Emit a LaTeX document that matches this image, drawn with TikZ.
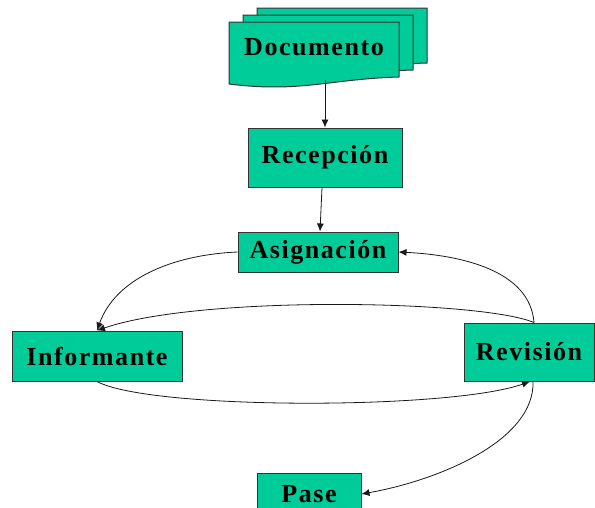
\documentclass[tikz,border=0pt]{standalone}
\usepackage{fontspec}
\setmainfont{Liberation Serif}[LetterSpace=6]
\usetikzlibrary{arrows.meta,calc}
\definecolor{boxgreen}{RGB}{0,204,153}
\begin{document}
\begin{tikzpicture}[x=1pt,y=-1pt,
  every node/.style={font=\fontsize{26}{28}\selectfont\bfseries},
  box/.style={draw=black!80,line width=1pt,fill=boxgreen,inner sep=0pt},
  sheet/.style={draw=black!80,line width=1pt,fill=boxgreen},
  conn/.style={line width=0.8pt,black!90,-{Latex[length=8pt,width=7pt]}}]
\useasboundingbox (0,0) rectangle (595,507);
% document sheets (back to front)
\path[sheet] (257,8) -- (427,8) -- (427,63) .. controls (358,65) and (328,79) .. (257,70) -- cycle;
\path[sheet] (243,15) -- (413,15) -- (413,70) .. controls (344,72) and (314,86) .. (243,77) -- cycle;
\path[sheet] (229,22) -- (399,22) -- (399,77) .. controls (330,79) and (300,93) .. (229,84) -- cycle;
\node (doc) at (314,47) {Documento};
\coordinate (docb) at (325,80);
% boxes
\node[box,minimum width=154pt,minimum height=59pt] (rec) at (325,157.5) {Recepción};
\node[box,minimum width=160pt,minimum height=40pt] (asig) at (318,252) {Asignación};
\node[box,minimum width=170pt,minimum height=50pt] (inf) at (97,356) {Informante};
\node[box,minimum width=130pt,minimum height=58pt] (rev) at (529,352) {Revisión};
\node[box,minimum width=104pt,minimum height=42pt] (pase) at (309,494) {Pase};
% connectors
\draw[conn] (docb) -- (rec.north -| docb);
\draw[conn] ($(rec.south)+(-3,0)$) -- ($(asig.north)+(2,0)$);
\draw[conn] (asig.west) .. controls (170,255) and (115,280) .. (inf.north);
\draw[conn] ($(rev.north)+(5,0)$) .. controls (530,270) and (460,255) .. (asig.east);
\draw[conn] ($(rev.north)+(5,0)$) .. controls (480,300) and (200,295) .. (inf.north);
\draw[conn] (inf.south) .. controls (150,410) and (450,410) .. ($(rev.south)+(1,0)$);
\draw[conn] ($(rev.south)+(4,0)$) .. controls (535,440) and (440,480) .. (pase.east);
\end{tikzpicture}
\end{document}
